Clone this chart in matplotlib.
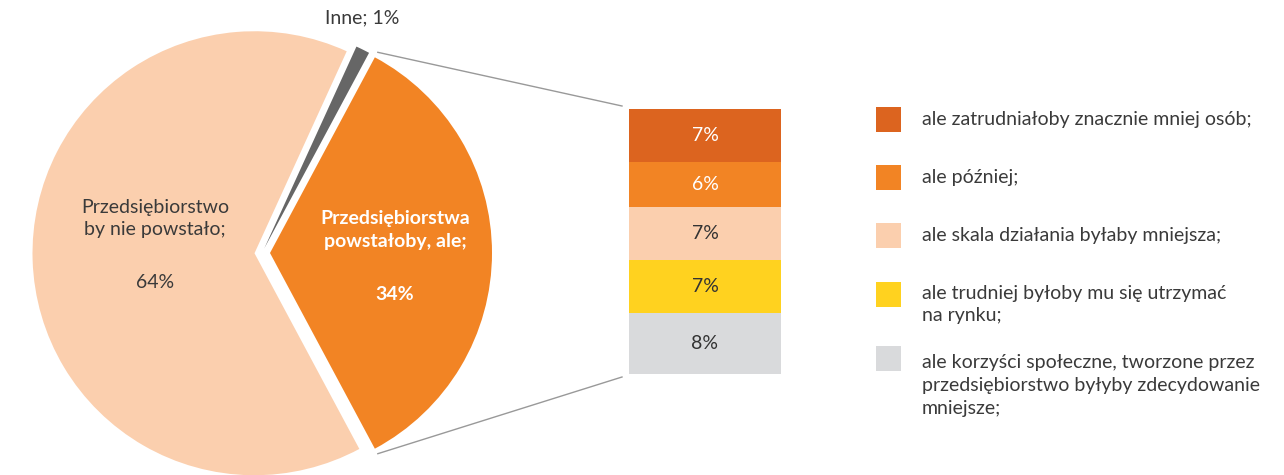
import numpy as np
import matplotlib.pyplot as plt
from matplotlib.patches import Rectangle

plt.rcParams['font.family'] = ['Lato', 'DejaVu Sans']

# udziały w wykresie kołowym
pie_labels = ['Przedsiębiorstwa\npowstałoby, ale;', 'Inne', 'Przedsiębiorstwo\nby nie powstało;']
pie_values = [34, 1, 64]
pie_colors = ['#F28424', '#666666', '#FBCFAE']

# rozbicie odpowiedzi "powstałoby, ale"
bar_labels = ['ale zatrudniałoby znacznie mniej osób;',
              'ale później;',
              'ale skala działania byłaby mniejsza;',
              'ale trudniej byłoby mu się utrzymać\nna rynku;',
              'ale korzyści społeczne, tworzone przez\nprzedsiębiorstwo byłyby zdecydowanie\nmniejsze;']
bar_values = [7, 6, 7, 7, 8]
bar_colors = ['#DC641F', '#F28424', '#FBCFAE', '#FFD21F', '#D9DADC']
bar_text_colors = ['white', 'white', '#333333', '#333333', '#333333']

FS = 14
TXT = '#3a3a3a'
W, H = 1284, 475
fig = plt.figure(figsize=(W / 100, H / 100), dpi=100)
ax = fig.add_axes([0, 0, 1, 1])

cx, cy, r = 262, H - 253, 222
frac0 = pie_values[0] / sum(pie_values)
# explode podawany w jednostkach danych (piksele)
wedges, _ = ax.pie(pie_values, colors=pie_colors, center=(cx, cy), radius=r,
                   startangle=-frac0 * 180, counterclock=True,
                   explode=[8, 5, 7.5], frame=True,
                   wedgeprops=dict(linewidth=0))
ax.set_xlim(0, W)
ax.set_ylim(0, H)
ax.set_aspect('equal')
ax.axis('off')

# opisy wycinków
ax.text(155, H - 218.5, pie_labels[2], ha='center', va='center', fontsize=FS,
        color=TXT, linespacing=1.32)
ax.text(155, H - 283, f'{pie_values[2]}%', ha='center', va='center',
        fontsize=FS, color=TXT)
ax.text(395, H - 230, pie_labels[0], ha='center', va='center', fontsize=FS,
        color='white', fontweight='bold', linespacing=1.48)
ax.text(395, H - 294, f'{pie_values[0]}%', ha='center', va='center',
        fontsize=FS, color='white', fontweight='bold')
ax.text(362, H - 18, f'{pie_labels[1]}; {pie_values[1]}%', ha='center',
        va='center', fontsize=FS, color=TXT)

# słupek skumulowany
bx0, bx1, by0, by1 = 629, 781, 109, 374
bax = fig.add_axes([bx0 / W, 1 - by1 / H, (bx1 - bx0) / W, (by1 - by0) / H])
bottoms = np.cumsum([0] + bar_values[:-1])
bax.bar(0, bar_values, bottom=bottoms, width=1, color=bar_colors, linewidth=0)
for v, b, tc in zip(bar_values, bottoms, bar_text_colors):
    bax.text(0, b + v / 2, f'{v}%', ha='center', va='center', fontsize=FS, color=tc)
bax.set_xlim(-0.5, 0.5)
bax.set_ylim(sum(bar_values), 0)
bax.axis('off')

# linie łączące wycinek ze słupkiem
w = wedges[0]
ox, oy = w.center
for ang, ty in [(w.theta2, by0 - 3), (w.theta1, by1 + 3)]:
    px = ox + r * np.cos(np.radians(ang)) + 3
    py = oy + r * np.sin(np.radians(ang)) + (5 if ang > 0 else -5)
    ax.plot([px, bx0 - 7], [py, H - ty], color='#999999', lw=1)

# legenda
leg_y = [119, 177, 235, 294, 358]
text_y = [119, 177, 235, 304.5, 385.5]
for lab, col, sy, ty in zip(bar_labels, bar_colors, leg_y, text_y):
    ax.add_patch(Rectangle((876, H - sy - 12.5), 25, 25, color=col, lw=0))
    ax.text(922, H - ty, lab, ha='left', va='center', fontsize=FS,
            color=TXT, linespacing=1.42)

fig.savefig('out.png', dpi=100)
